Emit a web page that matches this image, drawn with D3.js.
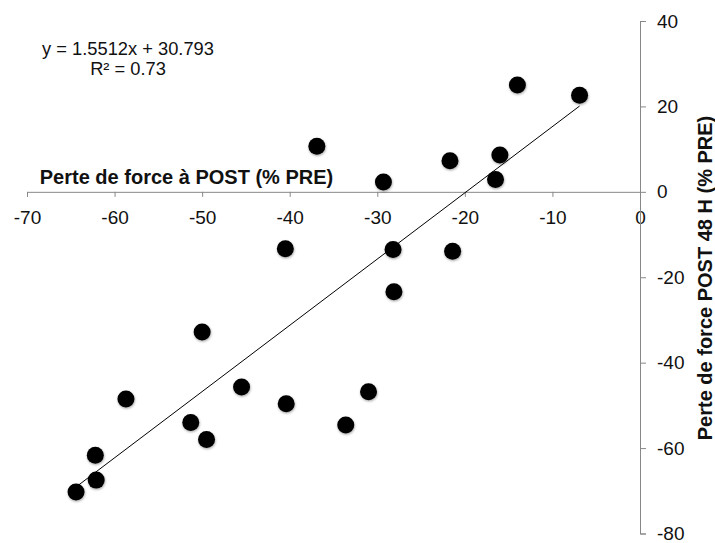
<!DOCTYPE html>
<html><head><meta charset="utf-8">
<script src="https://cdn.jsdelivr.net/npm/d3@7"></script>
<style>body{margin:0;background:#fff}svg{display:block}text{font-family:"Liberation Sans",Arial,sans-serif}</style>
</head><body><svg id="c" width="715" height="543"></svg>
<script>
const xVals = [-64.4,-62.1,-62.2,-58.7,-51.3,-49.5,-50.0,-45.5,-40.4,-40.5,-33.6,-31.0,-28.2,-28.1,-21.4,-36.9,-29.3,-21.7,-16.5,-16.0,-14.0,-6.9];
const yVals = [-70.3,-67.5,-61.7,-48.5,-54.0,-58.0,-32.8,-45.7,-49.6,-13.3,-54.6,-46.8,-13.5,-23.4,-13.9,10.7,2.3,7.3,2.9,8.6,25.0,22.6];
const xTicks = [-70,-60,-50,-40,-30,-20,-10,0];
const yTicks = [-80,-60,-40,-20,0,20,40];
const slope = 1.5512, intercept = 30.793;
const eqText = "y = 1.5512x + 30.793";
const r2Text = "R² = 0.73";
const xTitle = "Perte de force à POST (% PRE)";
const yTitle = "Perte de force POST 48 H (% PRE)";

const svg = d3.select("#c");
const x = d3.scaleLinear().domain([-70,0]).range([27,640]);
const y = d3.scaleLinear().domain([-80,40]).range([533.5,21]);

const defs = svg.append("defs");
const f = defs.append("filter").attr("id","sh").attr("x","-50%").attr("y","-50%").attr("width","200%").attr("height","200%");
f.append("feDropShadow").attr("dx",0.5).attr("dy",1.2).attr("stdDeviation",0.8).attr("flood-color","#000").attr("flood-opacity",0.35);

// x axis at y=0
const xAxis = d3.axisBottom(x).tickValues(xTicks).tickSize(5).tickPadding(14).tickFormat(d => String(d));
const gx = svg.append("g").attr("transform",`translate(0,${y(0)})`).call(xAxis);
gx.select(".domain").attr("stroke","#888");
gx.selectAll(".tick line").attr("stroke","#888");
gx.selectAll(".tick text").attr("font-size",19).attr("fill","#111");

// y axis at x=0, ticks to the right
const yAxis = d3.axisRight(y).tickValues(yTicks).tickSize(6).tickPadding(11).tickFormat(d => String(d));
const gy = svg.append("g").attr("transform",`translate(${x(0)},0)`).call(yAxis);
gy.select(".domain").attr("stroke","#888");
gy.selectAll(".tick line").attr("stroke","#888");
gy.selectAll(".tick text").attr("font-size",19).attr("fill","#111");

// trend line
const x0 = d3.min(xVals), x1 = d3.max(xVals);
svg.append("line").attr("x1",x(x0)).attr("y1",y(slope*x0+intercept))
  .attr("x2",x(x1)).attr("y2",y(slope*x1+intercept))
  .attr("stroke","#000").attr("stroke-width",1);

// points
svg.append("g").selectAll("circle").data(xVals.map((v,i)=>[v,yVals[i]])).join("circle")
  .attr("cx",d=>x(d[0])).attr("cy",d=>y(d[1])).attr("r",8.5).attr("fill","#000").attr("filter","url(#sh)");

// titles
svg.append("text").attr("x",186.5).attr("y",183.5).attr("text-anchor","middle")
  .attr("font-size",20).attr("font-weight","bold").attr("fill","#111").text(xTitle);
svg.append("text").attr("transform",`translate(712,278) rotate(-90)`).attr("text-anchor","middle")
  .attr("font-size",20).attr("font-weight","bold").attr("fill","#111").text(yTitle);

// equation
svg.append("text").attr("x",128).attr("y",54.5).attr("text-anchor","middle").attr("font-size",18.3).attr("fill","#111").text(eqText);
svg.append("text").attr("x",128).attr("y",75).attr("text-anchor","middle").attr("font-size",18.3).attr("fill","#111").text(r2Text);
</script></body></html>
